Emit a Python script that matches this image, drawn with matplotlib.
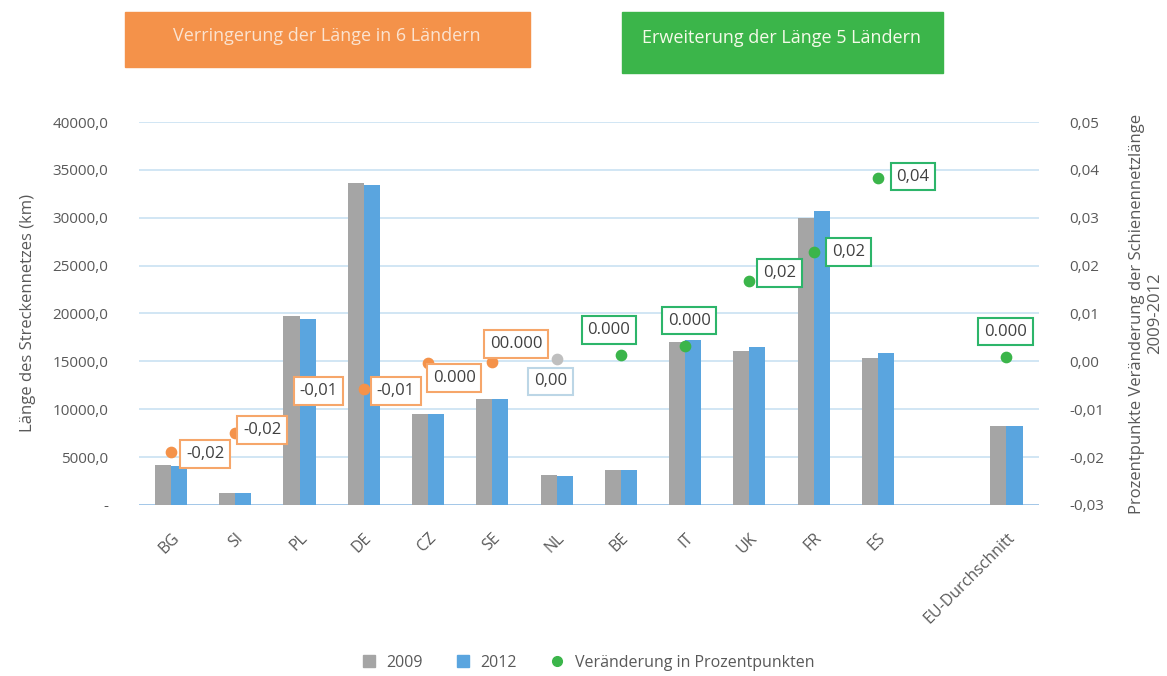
import numpy as np
import matplotlib.pyplot as plt
from matplotlib.patches import Rectangle
from matplotlib.lines import Line2D

plt.rcParams['font.family'] = ['Open Sans', 'DejaVu Sans']

# data; the empty slot is the gap before the EU average
categories = ["BG", "SI", "PL", "DE", "CZ", "SE", "NL", "BE", "IT", "UK", "FR", "ES", "", "EU-Durchschnitt"]
len_2009 = [4200, 1300, 19700, 33600, 9500, 11100, 3100, 3700, 17000, 16100, 30000, 15400, None, 8300]
len_2012 = [4100, 1300, 19400, 33400, 9500, 11100, 3000, 3700, 17200, 16500, 30700, 15900, None, 8300]
change_pp = [-0.019, -0.015, -0.0072, -0.0058, -0.0004, -0.0001, 0.0004, 0.0013, 0.0033, 0.0168, 0.0228, 0.0384, None, 0.0010]
change_lbl = ["-0,02", "-0,02", "-0,01", "-0,01", "0.000", "00.000", "0,00", "0.000", "0.000", "0,02", "0,02", "0,04", "", "0.000"]
change_grp = ["down"] * 6 + ["flat"] + ["up"] * 5 + ["", "up"]

# label offsets in pixels from each dot
lbl_off = [(34, -2), (27, 3), (19, 5), (32, -2), (26, -15), (24, 18), (-6, -22),
           (-12, 25), (4, 25), (30, 8), (35, 0), (35, 1), (0, 0), (-1, 25)]

GRAY = "#A5A5A5"
BLUE = "#5AA5DF"
ORANGE = "#F4924A"
GREEN = "#3BB54A"
TXT = "#595959"
dot_col = {"down": ORANGE, "flat": "#BFBFBF", "up": GREEN}
box_col = {"down": "#F6A66A", "flat": "#BCD6E6", "up": "#2DB56A"}

def to_arr(v):
    return np.array([np.nan if x is None else x for x in v], dtype=float)

y09 = to_arr(len_2009)
y12 = to_arr(len_2012)
pp = to_arr(change_pp)
x = np.arange(len(categories))

fig = plt.figure(figsize=(11.67, 6.76), dpi=100)
ax = fig.add_axes([0.119, 0.253, 0.771, 0.5665])
ax2 = ax.twinx()

w = 0.25
ax.bar(x - w / 2, y09, w, color=GRAY, zorder=2)
ax.bar(x + w / 2, y12, w, color=BLUE, zorder=2)

ax.set_xlim(-0.5, len(categories) - 0.5)
ax.set_ylim(0, 40000)
ax.set_yticks(np.arange(0, 40001, 5000))
ax.set_yticklabels(["-" if v == 0 else f"{v:.1f}".replace(".", ",") for v in np.arange(0, 40001, 5000)])
ax.yaxis.grid(True, color="#C9E2F2", lw=1.2, zorder=0)
ax.axhline(0, color="#9DC3E6", lw=1.2, zorder=1)
ax.set_axisbelow(True)
for s in ax.spines.values():
    s.set_visible(False)
for s in ax2.spines.values():
    s.set_visible(False)

ax.set_xticks(x)
ax.set_xticklabels(categories, rotation=45, ha="right", rotation_mode="anchor")
ax.tick_params(axis="x", length=0, pad=18, labelsize=11.5, labelcolor=TXT)
ax.tick_params(axis="y", length=0, pad=22, labelsize=11, labelcolor=TXT)
ax.set_ylabel("Länge des Streckennetzes (km)", fontsize=12, color=TXT, labelpad=12)

ax2.set_ylim(-0.03, 0.05)
rt = np.arange(-0.03, 0.0501, 0.01)
ax2.set_yticks(rt)
ax2.set_yticklabels([f"{v:.2f}".replace(".", ",").replace("-0,00", "0,00") for v in rt])
ax2.tick_params(axis="y", length=0, pad=22, labelsize=11, labelcolor=TXT)
ax2.set_ylabel("Prozentpunkte Veränderung der Schienennetzlänge\n2009-2012", fontsize=12,
               color=TXT, rotation=90, labelpad=18)

for i in range(len(categories)):
    if np.isnan(pp[i]):
        continue
    g = change_grp[i]
    ax2.scatter(x[i], pp[i], s=55, color=dot_col[g], zorder=4)
    ax2.annotate(change_lbl[i], (x[i], pp[i]), xytext=lbl_off[i], textcoords="offset pixels",
                 ha="center", va="center", fontsize=12, color="#404040", zorder=5,
                 bbox=dict(boxstyle="square,pad=0.35", fc="white", ec=box_col[g], lw=1.5))

# banners on top
fig.patches.append(Rectangle((0.107, 0.901), 0.347, 0.081, transform=fig.transFigure,
                             color=ORANGE, zorder=0))
fig.text(0.28, 0.947, "Verringerung der Länge in 6 Ländern", ha="center", va="center",
         fontsize=13, color="#FBE3D0")
fig.patches.append(Rectangle((0.533, 0.892), 0.275, 0.090, transform=fig.transFigure,
                             color=GREEN, zorder=0))
fig.text(0.670, 0.944, "Erweiterung der Länge 5 Ländern", ha="center", va="center",
         fontsize=13, color="#F4FAE8")

handles = [Line2D([], [], marker="s", ls="", color=GRAY, markersize=8),
           Line2D([], [], marker="s", ls="", color=BLUE, markersize=8),
           Line2D([], [], marker="o", ls="", color=GREEN, markersize=7)]
fig.legend(handles, ["2009", "2012", "Veränderung in Prozentpunkten"], loc="lower center",
           bbox_to_anchor=(0.5, -0.014), ncol=3, frameon=False, fontsize=11.5,
           handletextpad=0.1, columnspacing=1.5, labelcolor=TXT)

fig.savefig("out.png", dpi=100)
